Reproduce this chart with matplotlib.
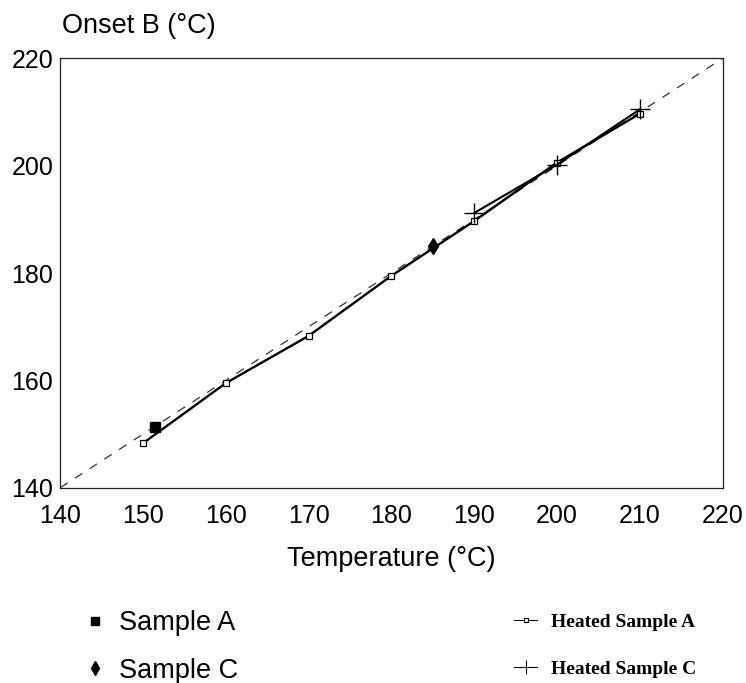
import matplotlib
matplotlib.use('Agg')
import matplotlib.pyplot as plt
from matplotlib.lines import Line2D

# values
heated_a_temp = [150, 160, 170, 180, 190, 200, 210]
heated_a_onset = [148.3, 159.5, 168.3, 179.5, 189.7, 200.6, 209.7]
heated_c_temp = [190, 200, 210]
heated_c_onset = [191.2, 200.2, 210.5]
sample_a_temp = [151.4]
sample_a_onset = [151.3]
sample_c_temp = [185.0]
sample_c_onset = [185.0]
ref_line = [140, 220]
ticks = [140, 150, 160, 170, 180, 190, 200, 210, 220]
yticks = [140, 160, 180, 200, 220]

sans = 'Liberation Sans'
plt.rcParams['font.family'] = [sans, 'DejaVu Sans']

fig = plt.figure(figsize=(7.46, 6.83), dpi=100)
ax = fig.add_axes([60.3 / 746, 1 - 487.7 / 683, 662.2 / 746, 429.2 / 683])

# dashed y = x line
ax.plot(ref_line, ref_line, color='#333333', lw=0.9, dashes=(7, 7), zorder=1)

ax.plot(heated_a_temp, heated_a_onset, '-s', color='black', lw=1.7, ms=4,
        mfc='white', mec='black', mew=0.9, zorder=3)
ax.plot(heated_c_temp, heated_c_onset, '-+', color='black', lw=1.5, ms=14,
        mew=1.0, zorder=4)
ax.plot(sample_a_temp, sample_a_onset, 's', color='black', ms=7, zorder=5)
ax.plot(sample_c_temp, sample_c_onset, 'd', color='black', ms=8.5, zorder=5)

ax.set_xlim(140, 220)
ax.set_ylim(140, 220)
ax.set_xticks(ticks)
ax.set_yticks(yticks)
ax.tick_params(axis='both', length=0, labelsize=18)
ax.tick_params(axis='x', pad=12)
ax.tick_params(axis='y', pad=5)
for sp in ax.spines.values():
    sp.set_linewidth(0.9)
    sp.set_color('#222222')

fig.text(62 / 746, 1 - 33 / 683, 'Onset B (°C)', fontsize=19.5, va='baseline', ha='left')
fig.text(391 / 746, 1 - 566 / 683, 'Temperature (°C)', fontsize=19.5, va='baseline', ha='center')

# legends
left_handles = [
    Line2D([], [], ls='none', marker='s', color='black', ms=6),
    Line2D([], [], ls='none', marker='d', color='black', ms=7),
]
fig.legend(left_handles, ['Sample A', 'Sample C'], loc='center left',
           bbox_to_anchor=(82.5 / 746, 1 - 647 / 683), frameon=False,
           fontsize=19.5, handlelength=0.92, handletextpad=0.42, labelspacing=0.8,
           borderpad=0, borderaxespad=0)

right_handles = [
    Line2D([], [], color='black', lw=0.7, marker='s', ms=3.5, mfc='white', mew=0.8),
    Line2D([], [], color='black', lw=0.7, marker='+', ms=10, mew=0.8),
]
fig.legend(right_handles, ['Heated Sample A', 'Heated Sample C'], loc='center left',
           bbox_to_anchor=(514 / 746, 1 - 645.5 / 683), frameon=False,
           prop={'family': 'Liberation Serif', 'weight': 'bold', 'size': 14},
           handlelength=1.19, handletextpad=0.72, labelspacing=1.5,
           borderpad=0, borderaxespad=0)

fig.savefig('out.png', dpi=100, facecolor='white')
